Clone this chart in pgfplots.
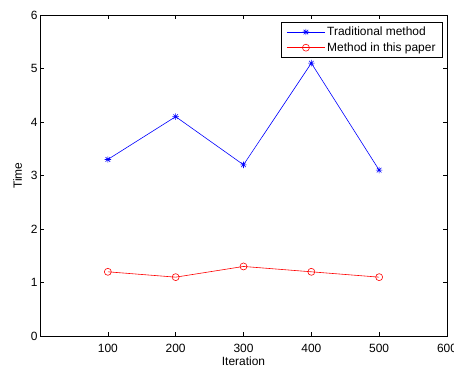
\documentclass[border=0pt]{standalone}
\usepackage{pgfplots}
\pgfplotsset{compat=1.18}
\usepackage{fontspec}
\setmainfont{Liberation Sans}
\pgfdeclareplotmark{mstar}{%
  \pgfpathmoveto{\pgfqpoint{-\pgfplotmarksize}{0pt}}\pgfpathlineto{\pgfqpoint{\pgfplotmarksize}{0pt}}%
  \pgfpathmoveto{\pgfqpoint{0pt}{-\pgfplotmarksize}}\pgfpathlineto{\pgfqpoint{0pt}{\pgfplotmarksize}}%
  \pgfpathmoveto{\pgfqpoint{-0.707\pgfplotmarksize}{-0.707\pgfplotmarksize}}\pgfpathlineto{\pgfqpoint{0.707\pgfplotmarksize}{0.707\pgfplotmarksize}}%
  \pgfpathmoveto{\pgfqpoint{-0.707\pgfplotmarksize}{0.707\pgfplotmarksize}}\pgfpathlineto{\pgfqpoint{0.707\pgfplotmarksize}{-0.707\pgfplotmarksize}}%
  \pgfusepathqstroke}
\begin{document}
\begin{tikzpicture}[x=1bp,y=1bp]
\begin{axis}[
  scale only axis,
  width=407bp, height=321bp,
  xmin=0, xmax=600, ymin=0, ymax=6,
  xtick={100,200,300,400,500,600},
  ytick={0,1,2,3,4,5,6},
  tick align=inside,
  major tick length=4bp,
  tick style={black, line width=0.5pt},
  axis line style={black, line width=0.8pt},
  /pgf/number format/assume math mode=true,
  tick label style={font=\fontsize{12}{14}\selectfont},
  xticklabel style={anchor=base, yshift=-16bp},
  yticklabel style={xshift=1bp},
  label style={font=\fontsize{12}{14}\selectfont},
  xlabel={Iteration}, ylabel={Time},
  xlabel style={at={(axis description cs:0.5,0)}, anchor=base, yshift=-29bp},
  ylabel style={yshift=2bp},
  legend style={at={(0.990,0.978)}, anchor=north east, draw=black, line width=0.8pt,
    font=\fontsize{12}{14}\selectfont, inner xsep=5bp, inner ysep=2.5bp, row sep=1.5bp},
  legend cell align=left,
  legend image code/.code={
    \draw[#1, mark=none, line width=0.6pt] (0bp,0bp) -- (38bp,0bp);
    \draw[#1, only marks] plot coordinates {(19bp,0bp)};
  },
]
\addplot[blue, line width=0.6pt, mark=mstar, mark size=3.2bp, mark options={line width=0.6pt}]
  coordinates {(100,3.3) (200,4.1) (300,3.2) (400,5.1) (500,3.1)};
\addlegendentry{Traditional method}
\addplot[red, line width=0.6pt, mark=o, mark size=3.5bp, mark options={line width=0.6pt}]
  coordinates {(100,1.2) (200,1.1) (300,1.3) (400,1.2) (500,1.1)};
\addlegendentry{Method in this paper}
\end{axis}
\pgfresetboundingbox
\useasboundingbox ([xshift=-40bp,yshift=-30bp]current axis.south west) rectangle ([xshift=7bp,yshift=15bp]current axis.north east);
\end{tikzpicture}
\end{document}
